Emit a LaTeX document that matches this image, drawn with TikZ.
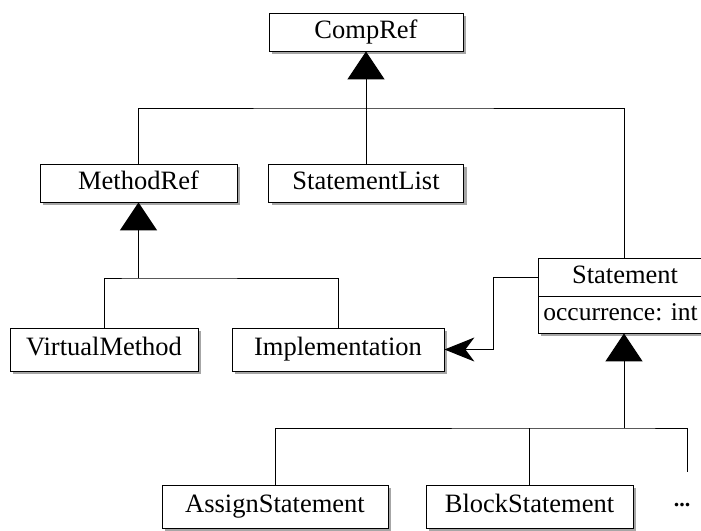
\documentclass[tikz,border=0pt]{standalone}
\usepackage{fontspec}
\setmainfont{Liberation Serif}
\usetikzlibrary{arrows.meta,shadows}
\begin{document}
\begin{tikzpicture}[x=1pt,y=-1pt,
 box/.style={draw, fill=white, line width=0.8pt, inner sep=0pt, minimum height=38pt,
   font=\fontsize{26.5}{30}\selectfont, text height=18pt, text depth=6pt,
   general shadow={fill=gray!70, shadow xshift=3pt, shadow yshift=-3pt}},
 link/.style={line width=1pt},
 inh/.style={link, -{Triangle[width=37pt,length=28pt]}},
 assoc/.style={link, -{Stealth[length=30pt,width=24pt,inset=9pt]}}]
\useasboundingbox (0,0) rectangle (701,530);
\clip (0,0) rectangle (701,530);
\node[box, minimum width=194pt] (comp) at (366,32) {CompRef};
\node[box, minimum width=197pt] (mref) at (138.5,183) {MethodRef};
\node[box, minimum width=195pt] (slist) at (366,183) {StatementList};
\node[box, minimum width=188pt, minimum height=43pt] (vm) at (104,349.5) {VirtualMethod};
\node[box, minimum width=212pt, minimum height=43pt] (impl) at (338,349.5) {Implementation};
\node[box, minimum width=174pt] (stmt) at (625,277) {Statement};
\node[box, anchor=west, minimum height=37pt, text width=160pt, inner xsep=5pt, align=left, font=\fontsize{25.5}{30}\selectfont\frenchspacing] (attr) at (538,314.5) {occurrence: int};
\node[box, minimum width=226pt, minimum height=43pt] (assign) at (275,506.5) {AssignStatement};
\node[box, minimum width=207pt, minimum height=43pt] (block) at (529.5,506.5) {BlockStatement};
\node[inner sep=0pt, font=\fontsize{22}{26}\selectfont\bfseries] (more) at (682,505) {...};
\coordinate (j1) at (366,108);
\coordinate (j2) at (138.5,278);
\coordinate (j3) at (624,428);
\coordinate (mend) at (687,472);
\coordinate (bend) at (493,349.5);
\draw[inh] (j1) -- (comp.south);
\draw[link] (mref.north) |- (j1) -| (j1 -| j3) -- (j3 |- stmt.north);
\draw[link] (slist.north) -- (j1);
\draw[inh] (j2) -- (mref.south);
\draw[link] (vm.north) |- (j2) -| (impl.north);
\draw[inh] (j3) -- (j3 |- attr.south);
\draw[link] (assign.north) |- (j3) -| (mend);
\draw[link] (block.north) -- (block.north |- j3);
\draw[assoc] (stmt.west) -| (bend) -- (impl.east);
\end{tikzpicture}
\end{document}
